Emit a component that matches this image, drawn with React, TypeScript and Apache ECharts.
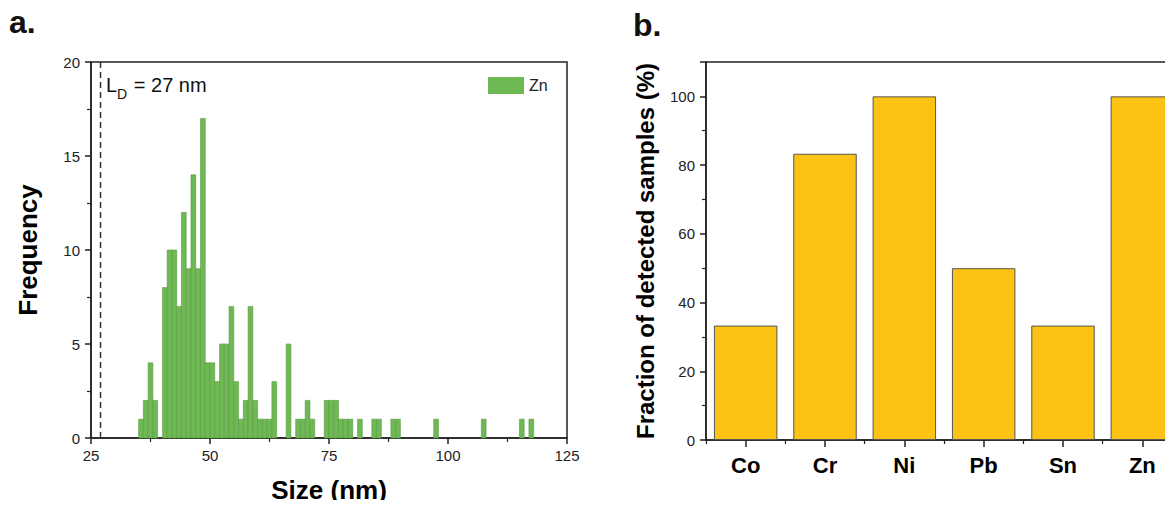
import React, { useEffect, useRef } from "react";
import * as echarts from "echarts";

// Histogram (panel a): bin start (nm, width 1 nm) and frequency
const binStarts = [35, 36, 37, 38, 39, 40, 41, 42, 43, 44, 45, 46, 47, 48, 49, 50, 51, 52, 53, 54, 55, 56, 57, 58, 59, 60, 61, 62, 63, 64, 65, 66, 67, 68, 69, 70, 71, 72, 73, 74, 75, 76, 77, 78, 79, 80, 81, 82, 83, 84, 85, 86, 87, 88, 89, 97, 107, 115, 117];
const binCounts = [1, 2, 4, 2, 0, 8, 10, 10, 7, 12, 9, 14, 9, 17, 4, 4, 3, 5, 5, 7, 3, 1, 2, 7, 2, 1, 1, 1, 3, 0, 0, 5, 0, 1, 1, 2, 1, 0, 0, 2, 2, 2, 1, 1, 1, 0, 1, 0, 0, 1, 1, 0, 0, 1, 1, 1, 1, 1, 1];
const binWidth = 1;
const detectionLimit = 27;

// Panel b
const elements = ["Co", "Cr", "Ni", "Pb", "Sn", "Zn"];
const fractions = [33.3, 83.3, 100, 50, 33.3, 100];

const FONT = "'Liberation Sans', Arial, sans-serif";
const GREEN = "#6fb954";
const YELLOW = "#fdc314";

export default function App() {
  const ref = useRef<HTMLDivElement>(null);
  useEffect(() => {
    if (!ref.current) return;
    const chart = echarts.init(ref.current, undefined, { renderer: "svg" });
    const histData = binStarts
      .map((s, i) => [s, s + binWidth, binCounts[i]])
      .filter((d) => d[2] > 0);

    const axisLine = { show: true, lineStyle: { color: "#222", width: 1.5 } };
    const axisLabelBase = { color: "#222", fontSize: 15, fontFamily: FONT };

    chart.setOption({
      animation: false,
      textStyle: { fontFamily: FONT },
      grid: [
        { left: 91, top: 62, width: 476, height: 378, show: true, borderColor: "#222", borderWidth: 1.5, backgroundColor: "transparent" },
        { left: 706, top: 62, width: 476, height: 378, show: true, borderColor: "#222", borderWidth: 1.5, backgroundColor: "transparent" },
      ],
      legend: {
        data: ["Zn"],
        left: 483,
        top: 72,
        itemWidth: 36,
        itemHeight: 17,
        itemGap: 4,
        icon: "rect",
        textStyle: { fontSize: 16, color: "#222", fontFamily: FONT },
      },
      xAxis: [
        {
          type: "value",
          gridIndex: 0,
          min: 25,
          max: 125,
          interval: 25,
          axisLine,
          axisTick: { show: true, length: 6, lineStyle: { color: "#222", width: 1.5 } },
          minorTick: { show: true, splitNumber: 2, length: 4, lineStyle: { color: "#222", width: 1.2 } },
          splitLine: { show: false },
          axisLabel: { ...axisLabelBase, margin: 10 },
          name: "Size (nm)",
          nameLocation: "middle",
          nameGap: 39,
          nameTextStyle: { fontSize: 26, fontWeight: "bold", color: "#000", fontFamily: FONT },
        },
        {
          type: "category",
          gridIndex: 1,
          position: "bottom",
          data: elements,
          axisLine,
          axisTick: { show: true, alignWithLabel: true, length: 7, lineStyle: { color: "#222", width: 1.5 } },
          axisLabel: { color: "#000", fontSize: 22, fontWeight: "bold", fontFamily: FONT, margin: 14 },
        },
        {
          type: "category",
          gridIndex: 1,
          position: "bottom",
          data: elements,
          axisLine: { show: false },
          axisTick: { show: true, length: 4, lineStyle: { color: "#222", width: 1.2 } },
          axisLabel: { show: false },
        },
      ],
      yAxis: [
        {
          type: "value",
          gridIndex: 0,
          min: 0,
          max: 20,
          interval: 5,
          axisLine,
          axisTick: { show: true, length: 6, lineStyle: { color: "#222", width: 1.5 } },
          minorTick: { show: true, splitNumber: 2, length: 4, lineStyle: { color: "#222", width: 1.2 } },
          splitLine: { show: false },
          axisLabel: { ...axisLabelBase, margin: 11 },
          name: "Frequency",
          nameLocation: "middle",
          nameGap: 50,
          nameTextStyle: { fontSize: 26, fontWeight: "bold", color: "#000", fontFamily: FONT },
        },
        {
          type: "value",
          gridIndex: 1,
          min: 0,
          max: 110,
          interval: 20,
          axisLine,
          axisTick: { show: true, length: 6, lineStyle: { color: "#222", width: 1.5 } },
          minorTick: { show: true, splitNumber: 2, length: 4, lineStyle: { color: "#222", width: 1.2 } },
          splitLine: { show: false },
          axisLabel: { ...axisLabelBase, margin: 11, showMaxLabel: false },
          name: "Fraction of detected samples (%)",
          nameLocation: "middle",
          nameGap: 49,
          nameTextStyle: { fontSize: 24, fontWeight: "bold", color: "#000", fontFamily: FONT },
        },
      ],
      series: [
        {
          name: "Zn",
          type: "custom",
          xAxisIndex: 0,
          yAxisIndex: 0,
          data: histData,
          encode: { x: [0, 1], y: 2 },
          itemStyle: { color: GREEN },
          renderItem: (params: any, api: any) => {
            const p0 = api.coord([api.value(0), 0]);
            const p1 = api.coord([api.value(1), api.value(2)]);
            return {
              type: "rect",
              shape: { x: p0[0], y: p1[1], width: p1[0] - p0[0], height: p0[1] - p1[1] },
              style: { fill: GREEN, stroke: "#5a9a45", lineWidth: 0.6 },
            };
          },
        },
        {
          name: "LD",
          type: "line",
          xAxisIndex: 0,
          yAxisIndex: 0,
          data: [
            [detectionLimit, 0],
            [detectionLimit, 20],
          ],
          symbol: "none",
          lineStyle: { color: "#333", width: 1.5, type: [6, 4] },
          silent: true,
        },
        {
          name: "Fraction",
          type: "bar",
          xAxisIndex: 1,
          yAxisIndex: 1,
          data: fractions,
          barCategoryGap: "20%",
          itemStyle: { color: YELLOW, borderColor: "#555", borderWidth: 1 },
        },
      ],
      graphic: [
        {
          type: "text",
          left: 9,
          top: 6,
          style: { text: "a.", fontSize: 32, fontWeight: "bold", fill: "#111", fontFamily: FONT },
        },
        {
          type: "text",
          left: 633,
          top: 9,
          style: { text: "b.", fontSize: 32, fontWeight: "bold", fill: "#111", fontFamily: FONT },
        },
        {
          type: "text",
          left: 106,
          top: 75,
          style: {
            text: "{n|L}{s|D}{n| = " + detectionLimit + " nm}",
            fill: "#111",
            fontFamily: FONT,
            rich: {
              n: { fontSize: 20, fontFamily: FONT, fill: "#111", verticalAlign: "bottom", lineHeight: 24 },
              s: { fontSize: 14, fontFamily: FONT, fill: "#111", verticalAlign: "bottom", lineHeight: 24, padding: [0, 1, -6, 0] },
            },
          },
        },
      ],
    });
    return () => chart.dispose();
  }, []);
  return (
    <div style={{ width: 1173, height: 508, margin: -8, overflow: "hidden", position: "relative" }}>
      <div ref={ref} style={{ width: 1190, height: 508 }} />
    </div>
  );
}
